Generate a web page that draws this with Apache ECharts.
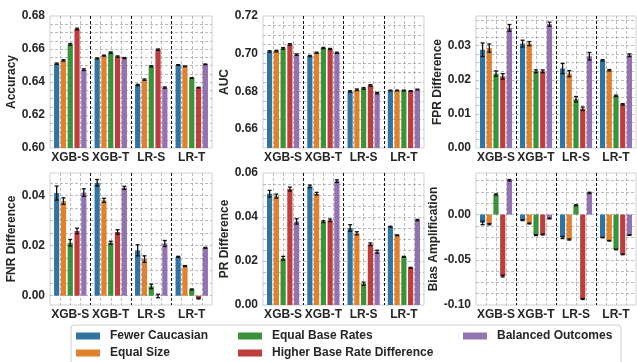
<!DOCTYPE html>
<html><head><meta charset="utf-8">
<script src="https://cdn.jsdelivr.net/npm/echarts@6/dist/echarts.min.js"></script>
<style>html,body{margin:0;padding:0;background:#fff}#c{width:637px;height:362px}</style>
</head><body><div id="c"></div>
<script>
// ---- data ----
const groups = ['XGB-S', 'XGB-T', 'LR-S', 'LR-T'];
const hues = ['Fewer Caucasian', 'Equal Size', 'Equal Base Rates', 'Higher Base Rate Difference', 'Balanced Outcomes'];
const hueColors = ['#3274a1', '#e1812c', '#3a923a', '#c03d3e', '#9372b2'];

// values[hue][group]
const accuracyVals = [
  [0.6511, 0.6543, 0.6382, 0.6503],
  [0.6531, 0.6560, 0.6414, 0.6495],
  [0.6628, 0.6578, 0.6495, 0.6424],
  [0.6721, 0.6554, 0.6596, 0.6366],
  [0.6475, 0.6545, 0.6366, 0.6507]];
const accuracyErrs = [
  [0.0004, 0.0003, 0.0004, 0.0002],
  [0.0004, 0.0003, 0.0004, 0.0002],
  [0.0005, 0.0004, 0.0004, 0.0002],
  [0.0005, 0.0004, 0.0004, 0.0002],
  [0.0005, 0.0003, 0.0004, 0.0002]];

const aucVals = [
  [0.7012, 0.6988, 0.6800, 0.6805],
  [0.7014, 0.7005, 0.6809, 0.6805],
  [0.7028, 0.7030, 0.6816, 0.6805],
  [0.7049, 0.7025, 0.6832, 0.6802],
  [0.6995, 0.7005, 0.6791, 0.6810]];
const aucErrs = [
  [0.0004, 0.0003, 0.0004, 0.0002],
  [0.0004, 0.0003, 0.0004, 0.0002],
  [0.0004, 0.0003, 0.0004, 0.0002],
  [0.0004, 0.0003, 0.0004, 0.0002],
  [0.0004, 0.0003, 0.0004, 0.0002]];

const fprVals = [
  [0.0288, 0.0306, 0.0233, 0.0257],
  [0.0293, 0.0306, 0.0218, 0.0228],
  [0.0218, 0.0225, 0.0143, 0.0153],
  [0.0210, 0.0225, 0.0115, 0.0128],
  [0.0352, 0.0363, 0.0269, 0.0272]];
const fprErrs = [
  [0.0020, 0.0010, 0.0015, 0.0002],
  [0.0012, 0.0006, 0.0009, 0.0002],
  [0.0008, 0.0004, 0.0008, 0.0002],
  [0.0008, 0.0004, 0.0005, 0.0002],
  [0.0010, 0.0006, 0.0011, 0.0004]];

const fnrVals = [
  [0.0409, 0.0450, 0.0181, 0.0155],
  [0.0377, 0.0380, 0.0146, 0.0118],
  [0.0211, 0.0211, 0.0037, 0.0025],
  [0.0258, 0.0254, -0.0001, -0.0011],
  [0.0411, 0.0430, 0.0208, 0.0191]];
const fnrErrs = [
  [0.0028, 0.0013, 0.0022, 0.0002],
  [0.0013, 0.0008, 0.0013, 0.0002],
  [0.0013, 0.0006, 0.0009, 0.0002],
  [0.0011, 0.0009, 0.0007, 0.0002],
  [0.0015, 0.0006, 0.0012, 0.0002]];

const prVals = [
  [0.0506, 0.0539, 0.0350, 0.0356],
  [0.0495, 0.0506, 0.0326, 0.0317],
  [0.0212, 0.0379, 0.0097, 0.0219],
  [0.0527, 0.0385, 0.0276, 0.0169],
  [0.0380, 0.0563, 0.0242, 0.0386]];
const prErrs = [
  [0.0015, 0.0006, 0.0015, 0.0002],
  [0.0009, 0.0006, 0.0007, 0.0002],
  [0.0009, 0.0004, 0.0007, 0.0002],
  [0.0009, 0.0006, 0.0006, 0.0002],
  [0.0012, 0.0006, 0.0007, 0.0003]];

const biasVals = [
  [-0.0092, -0.0062, -0.0254, -0.0254],
  [-0.0107, -0.0099, -0.0276, -0.0290],
  [0.0221, -0.0228, 0.0103, -0.0386],
  [-0.0680, -0.0221, -0.0934, -0.0441],
  [0.0379, -0.0044, 0.0239, -0.0228]];
const biasErrs = [
  [0.0020, 0.0005, 0.0012, 0.0003],
  [0.0007, 0.0005, 0.0006, 0.0003],
  [0.0007, 0.0005, 0.0005, 0.0003],
  [0.0010, 0.0005, 0.0005, 0.0003],
  [0.0008, 0.0005, 0.0007, 0.0003]];

const metricNames = ['Accuracy', 'AUC', 'FPR Difference', 'FNR Difference', 'PR Difference', 'Bias Amplification'];

// ---- layout ----
const FONT = 'Liberation Sans, Arial, Helvetica, sans-serif';
const TXT = '#262626';
const GAP = 0.3;
const panels = [
  {name: metricNames[0], vals: accuracyVals, errs: accuracyErrs, min: 0.60, max: 0.68, interval: 0.005, labelStep: 0.02, left: 50, top: 16, width: 162, nameGap: 29},
  {name: metricNames[1], vals: aucVals, errs: aucErrs, min: 0.65, max: 0.72, interval: 0.005, labelStep: 0.02, left: 263, top: 16, width: 161, nameGap: 31},
  {name: metricNames[2], vals: fprVals, errs: fprErrs, min: 0, max: 0.0387, interval: 0.0025, labelStep: 0.01, left: 476, top: 16, width: 160, nameGap: 31},
  {name: metricNames[3], vals: fnrVals, errs: fnrErrs, min: -0.0037, max: 0.0489, interval: null, splitNumber: 10, labelStep: 0.02, left: 50, top: 173, width: 162, nameGap: 29},
  {name: metricNames[4], vals: prVals, errs: prErrs, min: 0, max: 0.06, interval: 0.005, labelStep: 0.02, left: 263, top: 173, width: 161, nameGap: 31},
  {name: metricNames[5], vals: biasVals, errs: biasErrs, min: -0.10, max: 0.0459, interval: 0.0125, labelStep: 0.05, left: 476, top: 173, width: 160, nameGap: 33}
];
const H = 132;

function labelFmt(step) {
  return function (v) {
    const r = v / step;
    if (Math.abs(r - Math.round(r)) < 1e-6) {
      let x = Math.round(r) * step;
      if (Math.abs(x) < 1e-12) x = 0;
      return x.toFixed(2);
    }
    return '';
  };
}

function errRender(h) {
  return function (params, api) {
    const ci = api.value(0), v = api.value(1), e = api.value(2);
    const band = api.size([1, 0])[0];
    const w = 0.8 * band / (5 + 4 * GAP);
    const off = -0.4 * band + h * w * (1 + GAP) + w / 2;
    const hi = api.coord([ci, v + e]);
    const lo = api.coord([ci, v - e]);
    const x = hi[0] + off;
    const cap = 2;
    const st = {stroke: '#111', lineWidth: 1.3};
    return {type: 'group', children: [
      {type: 'line', shape: {x1: x, y1: hi[1], x2: x, y2: lo[1]}, style: st},
      {type: 'line', shape: {x1: x - cap, y1: hi[1], x2: x + cap, y2: hi[1]}, style: st},
      {type: 'line', shape: {x1: x - cap, y1: lo[1], x2: x + cap, y2: lo[1]}, style: st}
    ]};
  };
}

const GRIDLINE = {color: '#a8a8a8', type: [3, 2], width: 0.8};
const grid = [], xAxis = [], yAxis = [], series = [];
panels.forEach((p, i) => {
  grid.push({left: p.left, top: p.top, width: p.width, height: H, show: true,
    borderColor: '#cfcfcf', borderWidth: 1, backgroundColor: 'transparent'});
  // helper value axis for the fine vertical grid (index 2i)
  xAxis.push({type: 'value', gridIndex: i, min: 0, max: 4, interval: 0.25, position: 'top', z: 0,
    axisLine: {show: false}, axisTick: {show: false}, axisLabel: {show: false},
    splitLine: {show: true, showMinLine: false, showMaxLine: false, lineStyle: GRIDLINE}});
  // category axis (index 2i+1)
  xAxis.push({type: 'category', gridIndex: i, data: groups, position: 'bottom', z: 1,
    axisLine: {show: false}, axisTick: {show: false},
    axisLabel: {color: TXT, fontSize: 12, fontWeight: 'bold', fontFamily: FONT, margin: 4, interval: 0},
    splitLine: {show: true, showMinLine: false, showMaxLine: false, interval: 0, lineStyle: {color: '#111', type: [3, 2], width: 1}}});
  const ya = {type: 'value', gridIndex: i, min: p.min, max: p.max,
    name: p.name, nameLocation: 'middle', nameGap: p.nameGap,
    nameTextStyle: {color: TXT, fontSize: 12, fontWeight: 'bold', fontFamily: FONT},
    axisLine: {show: false}, axisTick: {show: false},
    axisLabel: {color: TXT, fontSize: 12, fontWeight: 'bold', fontFamily: FONT, margin: 5, formatter: labelFmt(p.labelStep), showMinLabel: true, showMaxLabel: true},
    splitLine: {show: true, showMinLine: false, showMaxLine: false, lineStyle: GRIDLINE}};
  if (p.interval) ya.interval = p.interval; else ya.splitNumber = p.splitNumber;
  yAxis.push(ya);
  hues.forEach((hn, h) => {
    series.push({type: 'bar', name: hn, xAxisIndex: 2 * i + 1, yAxisIndex: i,
      data: p.vals[h], barCategoryGap: '20%', barGap: (GAP * 100) + '%',
      itemStyle: {color: hueColors[h]}, z: 2, silent: true, animation: false});
  });
  hues.forEach((hn, h) => {
    series.push({type: 'custom', name: 'err', xAxisIndex: 2 * i + 1, yAxisIndex: i, z: 3,
      renderItem: errRender(h), silent: true, animation: false,
      data: groups.map((g, gi) => [gi, p.vals[h][gi], p.errs[h][gi]])});
  });
});

const legendText = {color: TXT, fontSize: 12, fontWeight: 'bold', fontFamily: FONT, padding: [0, 0, 0, 5], lineHeight: 14};
const legendBase = {orient: 'vertical', top: 329, itemWidth: 24, itemHeight: 7, itemGap: 3, icon: 'rect', padding: 0, textStyle: legendText, selectedMode: false};
const legend = [
  Object.assign({}, legendBase, {left: 76, data: [hues[0], hues[1]]}),
  Object.assign({}, legendBase, {left: 238, data: [hues[2], hues[3]]}),
  Object.assign({}, legendBase, {left: 463, data: [hues[4]]})
];

const chart = echarts.init(document.getElementById('c'), null, {renderer: 'canvas'});
chart.setOption({
  animation: false,
  backgroundColor: '#fff',
  grid, xAxis, yAxis, series, legend,
  graphic: [{type: 'rect', z: 0, silent: true, shape: {x: 71, y: 325, width: 550, height: 50, r: 3},
    style: {fill: '#fff', stroke: '#d0d0d0', lineWidth: 1}}]
});
</script></body></html>
